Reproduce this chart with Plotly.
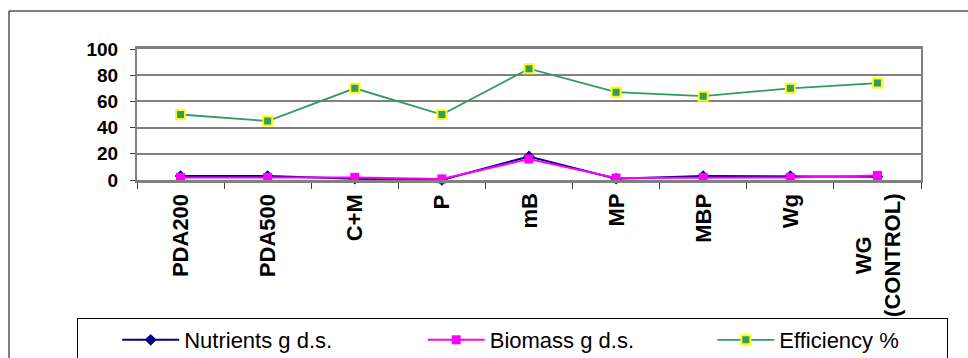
import plotly.graph_objects as go

# Treatments along the x axis
categories = ["PDA200", "PDA500", "C+M", "P", "mB", "MP", "MBP", "Wg", "WG<br>(CONTROL)"]

# Series values
nutrients = [3, 3, 1, 0, 18, 1, 3, 3, 2.5]
biomass = [2, 2, 2, 0.8, 16, 1.5, 2, 2, 3.5]
efficiency = [50, 45, 70, 50, 85, 67, 64, 70, 74]

# Legend entries
series_names = ["Nutrients g d.s.", "Biomass g d.s.", "Efficiency %"]

y_ticks = [0, 20, 40, 60, 80, 100]

W, H = 968, 358
ML, MR, MT, MB = 137, 47, 49, 178
PW, PH = W - ML - MR, H - MT - MB

FONT = "Liberation Sans, Arial, sans-serif"
NBSP = "\u00a0"

# Non-breaking padding spreads the legend entries evenly across the box
pads = [14, 12, 7]
legend_names = [n + NBSP * p for n, p in zip(series_names, pads)]

fig = go.Figure()

fig.add_trace(go.Scatter(
    x=categories, y=nutrients, name=legend_names[0], mode="lines+markers",
    line=dict(color="#000080", width=2),
    marker=dict(symbol="diamond", size=9, color="#000080"),
    cliponaxis=False,
))
fig.add_trace(go.Scatter(
    x=categories, y=biomass, name=legend_names[1], mode="lines+markers",
    line=dict(color="#FF00FF", width=2),
    marker=dict(symbol="square", size=9, color="#FF00FF"),
    cliponaxis=False,
))
fig.add_trace(go.Scatter(
    x=categories, y=efficiency, name=legend_names[2], mode="lines+markers",
    line=dict(color="#339966", width=1.8),
    marker=dict(symbol="square", size=9, color="#339966",
                line=dict(color="#FFFF00", width=2)),
    cliponaxis=False,
))

# Rotated category labels, centred under each category
for c in categories:
    fig.add_annotation(
        x=c, xref="x", y=-12 / PH, yref="paper",
        text=c, textangle=-90, showarrow=False,
        xanchor="center", yanchor="top", align="center",
        font=dict(family=FONT, size=22, color="black", weight="bold"),
    )

# Outer chart-area frame
fig.add_shape(
    type="rect", xref="paper", yref="paper",
    x0=(9 - ML) / PW, x1=(W + 10 - ML) / PW,
    y0=-(H + 10 - MT - PH) / PH, y1=(MT + PH - 11) / PH,
    line=dict(color="black", width=1), fillcolor="rgba(0,0,0,0)", layer="below",
)

fig.update_layout(
    width=W, height=H,
    margin=dict(l=ML, r=MR, t=MT, b=MB, autoexpand=False),
    paper_bgcolor="white", plot_bgcolor="white",
    font=dict(family=FONT, color="black"),
    showlegend=True,
    legend=dict(
        orientation="h", xref="paper", yref="paper",
        x=(77 - ML) / PW, y=(MT + PH - 318) / PH,
        xanchor="left", yanchor="top",
        bordercolor="black", borderwidth=1, bgcolor="white",
        font=dict(family=FONT, size=22, color="black"),
        itemwidth=57, traceorder="normal",
        title=dict(text=NBSP * 5, side="left", font=dict(size=21)),
    ),
    xaxis=dict(
        type="category", showticklabels=False,
        tickson="boundaries", ticks="outside", ticklen=6, tickcolor="#404040",
        showline=True, linecolor="#808080", linewidth=3, mirror=True,
        showgrid=False, zeroline=False,
        range=[-0.5, len(categories) - 0.5],
    ),
    yaxis=dict(
        range=[0, 100], tickvals=y_ticks, ticks="outside", ticklen=5,
        tickcolor="#404040",
        tickfont=dict(family=FONT, size=19, color="black", weight="bold"),
        showline=True, linecolor="#808080", linewidth=2, mirror=True,
        showgrid=True, gridcolor="#808080", gridwidth=1.5, zeroline=False,
        ticklabelstandoff=8,
    ),
)

fig.write_html("out.html")
